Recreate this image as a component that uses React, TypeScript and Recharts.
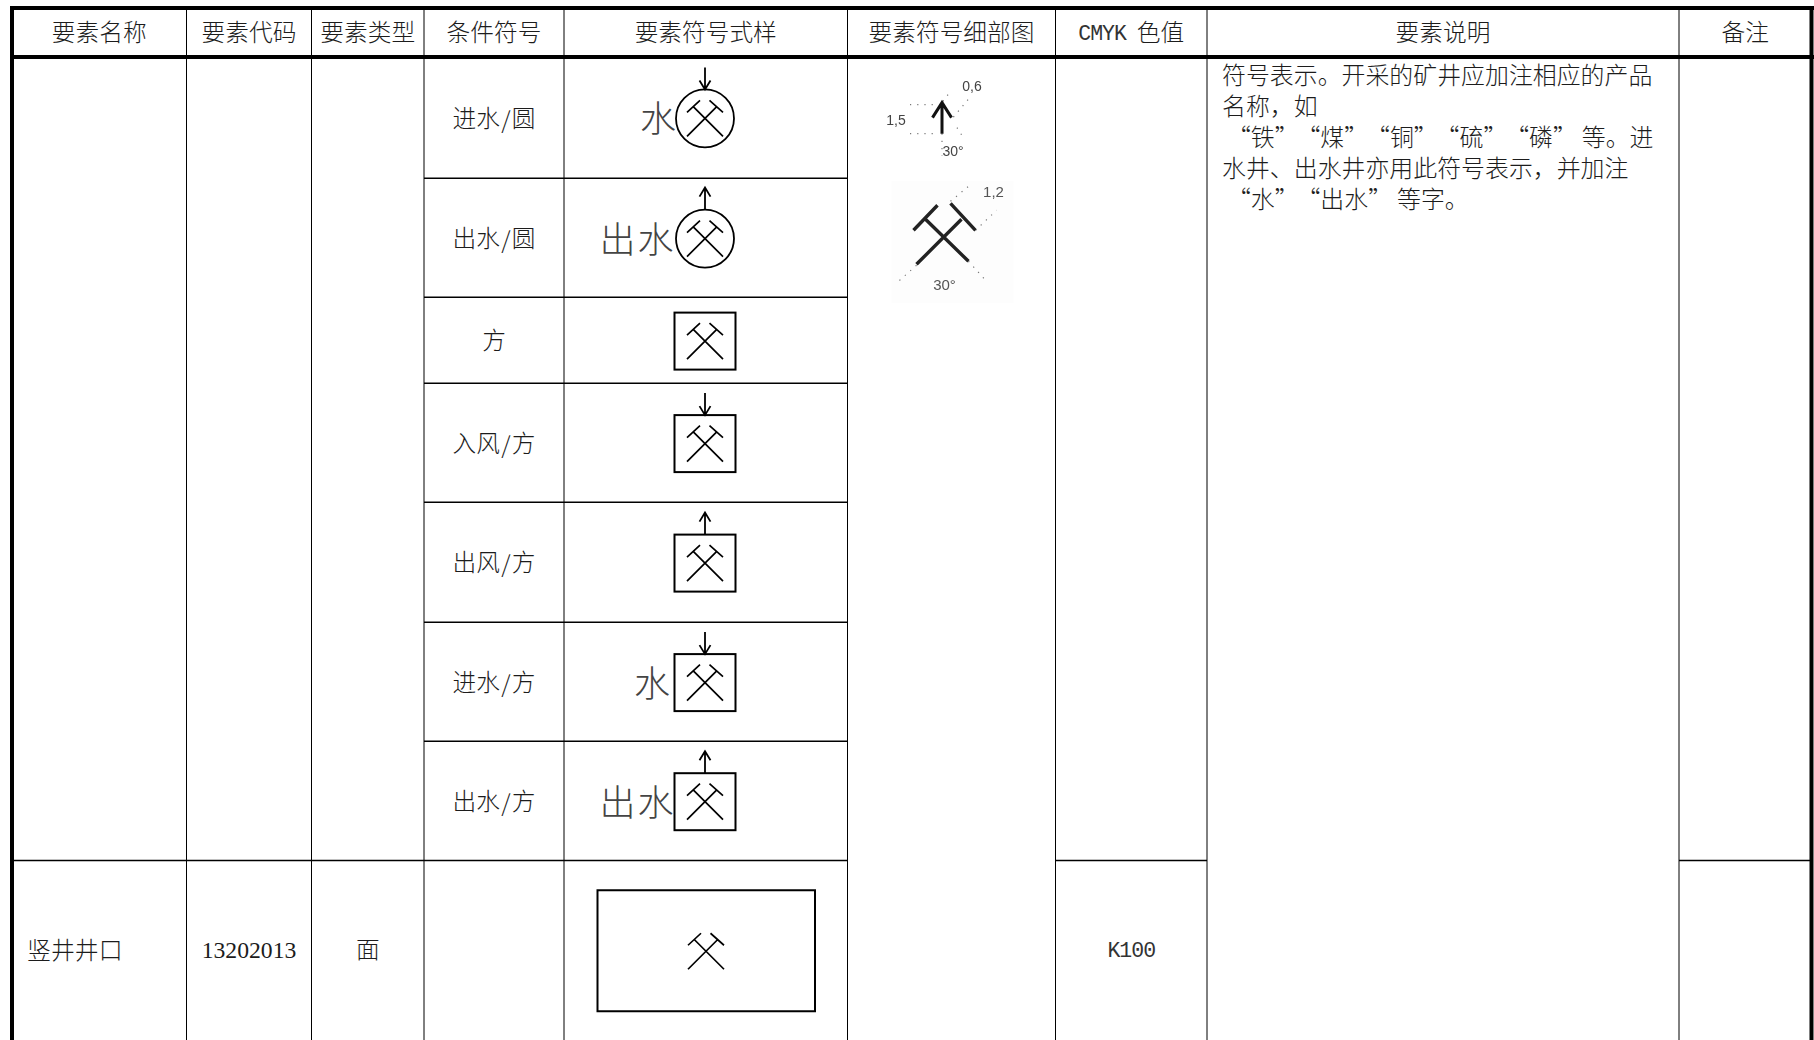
import { ReferenceLine, Scatter, ScatterChart, XAxis, YAxis } from "recharts";

const W = 1814;
const H = 1040;

// table layout (px)
const colEdges = [12, 186.5, 311.5, 424, 564, 847.5, 1055.5, 1207, 1679, 1811.5];
const rowEdges = [8, 57, 178.3, 297.3, 383.3, 502.3, 622.3, 741.3, 860.5, 1040];

const headerLabels = [
  "要素名称",
  "要素代码",
  "要素类型",
  "条件符号",
  "要素符号式样",
  "要素符号细部图",
  "CMYK 色值",
  "要素说明",
  "备注",
];
const conditionLabels = ["进水/圆", "出水/圆", "方", "入风/方", "出风/方", "进水/方", "出水/方"];
const symbolFrames = ["circle", "circle", "square", "square", "square", "square", "square"];
const symbolArrows = ["down", "up", "", "down", "up", "down", "up"];
const symbolSideText = ["水", "出水", "", "", "", "水", "出水"];
const lastRowLabels = ["", "13202013", "面", "", "", "", "K100", "", ""];
const lastRowName = "竖井井口";
const descriptionLines = [
  "符号表示。开采的矿井应加注相应的产品",
  "名称，如",
  "“铁”“煤”“铜”“硫”“磷”等。进",
  "水井、出水井亦用此符号表示，并加注",
  "“水”“出水”等字。",
];

const INK = "#000";
const TEXT = "#1c1c1c";
const CJK = '"Noto Sans CJK SC", sans-serif';
const MIXED = '"Liberation Serif", "Noto Sans CJK SC", serif';
const FONT_SIZE = 23.7;
const QUOTE_PAD = 4.9; // the installed font's quotes are narrower than a full cell

const colMid = (i: number) => (colEdges[i] + colEdges[i + 1]) / 2;
const rowMid = (i: number) => (rowEdges[i] + rowEdges[i + 1]) / 2;

const headerPoints = headerLabels.map((text, i) => ({ x: colMid(i), y: rowMid(0), text }));
const conditionPoints = conditionLabels.map((text, i) => ({ x: colMid(3), y: rowMid(i + 1) + 1, text }));
const lastRowPoints = lastRowLabels
  .map((text, i) => ({ x: colMid(i), y: rowMid(8), text }))
  .filter((p) => p.text);
const labelPoints = [...headerPoints, ...conditionPoints, ...lastRowPoints];

const namePoints = [{ x: 27, y: rowMid(8) - 1.5, text: lastRowName }];
const descriptionPoints = descriptionLines.map((text, i) => ({ x: 1222, y: 73 + i * 31.2, text }));

const symbolPoints = conditionLabels.map((_, i) => ({
  x: 705,
  y: rowMid(i + 1) + 0.8,
  frame: symbolFrames[i],
  arrow: symbolArrows[i],
  side: symbolSideText[i],
}));
const wellPoints = [{ x: 706, y: rowMid(8) + 1, frame: "wide", arrow: "", side: "" }];
const detailArrowPoints = [{ x: colMid(5), y: rowMid(1) }];
const detailPickPoints = [{ x: colMid(5), y: rowMid(2) }];

// capitals and the slash run at half a character width, like the table's font
function MixedText({ cx, cy, payload }: any) {
  const parts = String(payload.text).match(/[A-Z][A-Z0-9]*|\/| |[^A-Z/ ]+/g) || [];
  let gap = 0;
  let lift = 0;
  return (
    <text
      x={cx}
      y={cy}
      textAnchor="middle"
      dominantBaseline="central"
      fontFamily={MIXED}
      fontSize={FONT_SIZE}
      fontWeight={300}
      fill={TEXT}
    >
      {parts.map((part: string, i: number) => {
        if (part === " ") {
          gap = 11;
          return null;
        }
        let dx = gap;
        gap = 0;
        if (part === "/") {
          dx += 1.3;
          gap = 1.3;
          return (
            <tspan key={i} dx={dx} fontFamily={CJK}>
              {part}
            </tspan>
          );
        }
        if (/^[A-Z]/.test(part)) {
          lift = -1;
          return (
            <tspan
              key={i}
              dx={dx || undefined}
              dy={1}
              fontFamily='"Liberation Mono", monospace'
              fontSize={21.5}
              letterSpacing={-1}
              fill="#333"
            >
              {part}
            </tspan>
          );
        }
        const dy = lift;
        lift = 0;
        return (
          <tspan key={i} dx={dx || undefined} dy={dy || undefined}>
            {part}
          </tspan>
        );
      })}
    </text>
  );
}

function LeftText({ cx, cy, payload }: any) {
  const chars = Array.from(String(payload.text));
  const dx = chars
    .map((c, i) => (c === "“" ? QUOTE_PAD : 0) + (chars[i - 1] === "”" ? QUOTE_PAD : 0))
    .join(" ");
  return (
    <text
      x={cx}
      y={cy}
      dx={dx}
      dominantBaseline="central"
      fontFamily={CJK}
      fontSize={23.9}
      fontWeight={300}
      fill={TEXT}
    >
      {payload.text}
    </text>
  );
}

function Hammers({ x, y }: { x: number; y: number }) {
  const d = [
    `M${x - 18} ${y + 18}L${x + 12} ${y - 12}`,
    `M${x + 4.5} ${y - 18}L${x + 18} ${y - 6}`,
    `M${x + 18} ${y + 18}L${x - 12} ${y - 12}`,
    `M${x - 18} ${y - 6}L${x - 5} ${y - 18}`,
  ].join("");
  return <path d={d} fill="none" stroke={INK} strokeWidth={1.7} />;
}

function MineSymbol({ cx, cy, payload }: any) {
  const { frame, arrow, side } = payload;
  const halfH = frame === "circle" ? 29 : 28.5;
  const top = cy - halfH;
  const sideX = side === "出水" ? 637.5 : frame === "circle" ? 658 : 652;
  return (
    <g>
      {frame === "circle" && <circle cx={cx} cy={cy} r={29} fill="none" stroke={INK} strokeWidth={1.8} />}
      {frame === "square" && (
        <rect x={cx - 30.5} y={top} width={61} height={57} fill="none" stroke={INK} strokeWidth={2} />
      )}
      {frame === "wide" && (
        <rect x={597.5} y={cy - 61} width={217.5} height={121} fill="none" stroke={INK} strokeWidth={2} />
      )}
      <Hammers x={cx} y={cy} />
      {arrow === "down" && (
        <path
          d={`M${cx} ${top - 22}V${top}M${cx - 5.5} ${top - 9}L${cx} ${top}L${cx + 5.5} ${top - 9}`}
          fill="none"
          stroke={INK}
          strokeWidth={1.8}
        />
      )}
      {arrow === "up" && (
        <path
          d={`M${cx} ${top}V${top - 22}M${cx - 5.5} ${top - 13}L${cx} ${top - 22}L${cx + 5.5} ${top - 13}`}
          fill="none"
          stroke={INK}
          strokeWidth={1.8}
        />
      )}
      {side && (
        <text
          x={sideX}
          y={cy - 2}
          textAnchor="middle"
          dominantBaseline="central"
          fontFamily={CJK}
          fontSize={36}
          fontWeight={300}
          letterSpacing={side.length > 1 ? 2 : 0}
          fill="#444"
        >
          {side}
        </text>
      )}
    </g>
  );
}

const small = { fontFamily: '"Liberation Sans", sans-serif', fontSize: 14, textAnchor: "middle" as const };
const dots = { fill: "none", stroke: "#777", strokeWidth: 1.2, strokeDasharray: "1.2 6" };

function DetailArrow({ cx, cy }: any) {
  const x = cx - 9.5;
  const y = cy;
  return (
    <g style={{ filter: "blur(0.4px)" }}>
      <path
        d={`M${x - 32} ${y - 13}H${x - 5}M${x - 32} ${y + 16}H${x - 4}M${x + 6} ${y - 23}L${x} ${y - 15}M${x + 26} ${y - 18}L${x + 11} ${y}M${x + 15} ${y + 10}L${x + 22} ${y + 21}M${x} ${y + 16}V${y + 38}`}
        {...dots}
      />
      <path
        d={`M${x} ${y + 16}V${y - 15}M${x - 9.5} ${y}L${x} ${y - 15}L${x + 9.5} ${y}`}
        fill="none"
        stroke="#111"
        strokeWidth={3}
      />
      <text x={x + 30} y={y - 27} fill="#444" {...small}>
        0,6
      </text>
      <text x={x - 46} y={y + 7} fill="#444" {...small}>
        1,5
      </text>
      <text x={x + 11} y={y + 38} fill="#444" {...small}>
        30°
      </text>
    </g>
  );
}

function DetailPick({ cx, cy }: any) {
  const x = cx - 8;
  const y = cy + 1.5;
  return (
    <g style={{ filter: "blur(0.6px)" }}>
      <rect x={x - 52} y={y - 58} width={122} height={122} fill="#fdfdfd" />
      <path
        d={`M${x + 7} ${y - 38}L${x + 25} ${y - 53}M${x + 32} ${y - 9}L${x + 53} ${y - 29}M${x - 27} ${y + 26}L${x - 45} ${y + 42}M${x + 25} ${y + 22}L${x + 43} ${y + 42}`}
        {...dots}
      />
      <path
        d={`M${x - 27} ${y + 25}L${x + 18} ${y - 20}M${x + 7} ${y - 36}L${x + 32} ${y - 9}M${x + 25} ${y + 22}L${x - 18} ${y - 20}M${x - 30} ${y - 9}L${x - 6} ${y - 34}`}
        fill="none"
        stroke="#222"
        strokeWidth={3.4}
      />
      <text x={x + 50} y={y - 42} fill="#555" {...small} fontSize={15}>
        1,2
      </text>
      <text x={x + 1} y={y + 51} fill="#555" {...small} fontSize={15}>
        30°
      </text>
    </g>
  );
}

const seg = (x1: number, y1: number, x2: number, y2: number) => [
  { x: x1, y: y1 },
  { x: x2, y: y2 },
];

const thickLines = [
  seg(10, rowEdges[0], W, rowEdges[0]),
  seg(10, rowEdges[1], W, rowEdges[1]),
  seg(colEdges[0], 6, colEdges[0], H),
  seg(colEdges[9], 6, colEdges[9], H),
];
const columnLines = colEdges.slice(1, 9).map((x) => seg(x, rowEdges[0], x, H));
const rowLines = [
  ...rowEdges.slice(2, 8).map((y) => seg(colEdges[3], y, colEdges[5], y)),
  seg(colEdges[0], rowEdges[8], colEdges[5], rowEdges[8]),
  seg(colEdges[6], rowEdges[8], colEdges[7], rowEdges[8]),
  seg(colEdges[8], rowEdges[8], colEdges[9], rowEdges[8]),
];

export default function App() {
  return (
    <div style={{ position: "absolute", left: 0, top: 0, width: W, height: H, background: "#fff" }}>
      <ScatterChart width={W} height={H} margin={{ top: 0, right: 0, bottom: 0, left: 0 }}>
        <XAxis type="number" dataKey="x" domain={[0, W]} hide />
        <YAxis type="number" dataKey="y" domain={[0, H]} reversed hide />
        {columnLines.map((s, i) => (
          <ReferenceLine key={`c${i}`} segment={s} stroke={INK} strokeWidth={1} />
        ))}
        {rowLines.map((s, i) => (
          <ReferenceLine key={`r${i}`} segment={s} stroke={INK} strokeWidth={1.5} />
        ))}
        {thickLines.map((s, i) => (
          <ReferenceLine key={`t${i}`} segment={s} stroke={INK} strokeWidth={4} />
        ))}
        <Scatter data={labelPoints} shape={MixedText} isAnimationActive={false} />
        <Scatter data={namePoints} shape={LeftText} isAnimationActive={false} />
        <Scatter data={descriptionPoints} shape={LeftText} isAnimationActive={false} />
        <Scatter data={symbolPoints} shape={MineSymbol} isAnimationActive={false} />
        <Scatter data={wellPoints} shape={MineSymbol} isAnimationActive={false} />
        <Scatter data={detailArrowPoints} shape={DetailArrow} isAnimationActive={false} />
        <Scatter data={detailPickPoints} shape={DetailPick} isAnimationActive={false} />
      </ScatterChart>
    </div>
  );
}
